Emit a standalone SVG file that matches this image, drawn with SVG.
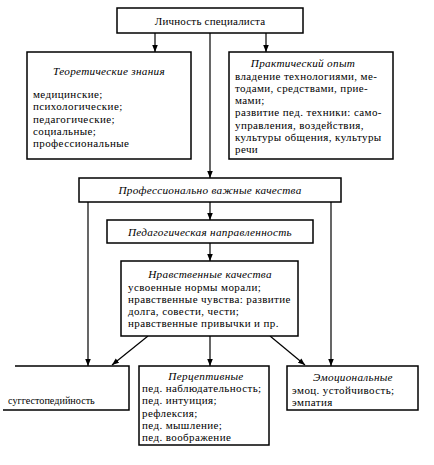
<svg xmlns="http://www.w3.org/2000/svg" width="434" height="465" viewBox="0 0 434 465">
<defs>
<marker id="ah" viewBox="0 0 10 10" refX="10" refY="5" markerWidth="7" markerHeight="7" markerUnits="userSpaceOnUse" orient="auto">
<path d="M0,1 L10,5 L0,9 Z" fill="#000"/>
</marker>
<style>
.box{fill:#fff;stroke:#000;stroke-width:1.5}
.t{font-family:'Liberation Serif','Times New Roman',serif;font-size:11px;letter-spacing:0.4px;fill:#000}
.i{font-style:italic;font-size:11.2px;letter-spacing:0.3px}
.c{text-anchor:middle}
.ar{stroke:#000;stroke-width:1.2;fill:none;marker-end:url(#ah)}
</style>
</defs>
<rect width="434" height="465" fill="#fff"/>
<g id="connectors">
<line class="ar" x1="155" y1="33" x2="155" y2="52"/>
<line class="ar" x1="266" y1="33" x2="266" y2="52"/>
<line class="ar" x1="210" y1="33" x2="210" y2="178"/>
<line class="ar" x1="210" y1="202" x2="210" y2="220"/>
<line class="ar" x1="210" y1="243" x2="210" y2="261"/>
<line class="ar" x1="88" y1="202" x2="88" y2="366"/>
<line class="ar" x1="331" y1="202" x2="331" y2="366"/>
<line class="ar" x1="148" y1="336" x2="112" y2="365"/>
<line class="ar" x1="210" y1="336" x2="210" y2="366"/>
<line class="ar" x1="270" y1="336" x2="305" y2="365"/>
</g>
<g id="n-lichnost">
<rect class="box" x="117" y="8" width="186" height="25"/>
<text class="t c" x="210" y="25" style="letter-spacing:0.2px">Личность специалиста</text>
</g>
<g id="n-teor">
<rect class="box" x="27" y="52" width="164" height="107"/>
<text class="t i c" x="109" y="75">Теоретические знания</text>
<text class="t" x="33" y="98">медицинские;</text>
<text class="t" x="33" y="110.3">психологические;</text>
<text class="t" x="33" y="122.6">педагогические;</text>
<text class="t" x="33" y="134.9">социальные;</text>
<text class="t" x="33" y="147.2">профессиональные</text>
</g>
<g id="n-prakt">
<rect class="box" x="229" y="52" width="164" height="107"/>
<text class="t i c" x="303" y="67">Практический опыт</text>
<text class="t" x="235" y="79.5">владение технологиями, ме-</text>
<text class="t" x="235" y="91.8">тодами, средствами, прие-</text>
<text class="t" x="235" y="104.1">мами;</text>
<text class="t" x="235" y="116.4">развитие пед. техники: само-</text>
<text class="t" x="235" y="128.7">управления, воздействия,</text>
<text class="t" x="235" y="141">культуры общения, культуры</text>
<text class="t" x="235" y="153.3">речи</text>
</g>
<g id="n-prof">
<rect class="box" x="79" y="178" width="262" height="24"/>
<text class="t i c" x="210" y="194">Профессионально  важные  качества</text>
</g>
<g id="n-ped">
<rect class="box" x="107" y="220" width="206" height="23"/>
<text class="t i c" x="210" y="236">Педагогическая  направленность</text>
</g>
<g id="n-nravst">
<rect class="box" x="121" y="261" width="177" height="75"/>
<text class="t i c" x="210" y="278">Нравственные качества</text>
<text class="t" x="128" y="290.5">усвоенные нормы морали;</text>
<text class="t" x="128" y="302.8">нравственные чувства: развитие</text>
<text class="t" x="128" y="315.1">долга, совести, чести;</text>
<text class="t" x="128" y="327.4">нравственные привычки и пр.</text>
</g>
<g id="n-sugg">
<path class="box" d="M15,366 H129 V410 H3"/>
<text class="t" x="8" y="404" style="font-size:10.2px;letter-spacing:0">суггестопедийность</text>
</g>
<g id="n-percept">
<rect class="box" x="139" y="366" width="130" height="79"/>
<text class="t i c" x="206" y="379.5">Перцептивные</text>
<text class="t" x="142" y="392">пед. наблюдательность;</text>
<text class="t" x="142" y="404.3">пед. интуиция;</text>
<text class="t" x="142" y="416.6">рефлексия;</text>
<text class="t" x="142" y="428.9">пед. мышление;</text>
<text class="t" x="142" y="441.2">пед. воображение</text>
</g>
<g id="n-emoc">
<rect class="box" x="287" y="366" width="131" height="44"/>
<text class="t i c" x="353" y="381">Эмоциональные</text>
<text class="t" x="292" y="394">эмоц. устойчивость;</text>
<text class="t" x="292" y="406.3">эмпатия</text>
</g>
</svg>
